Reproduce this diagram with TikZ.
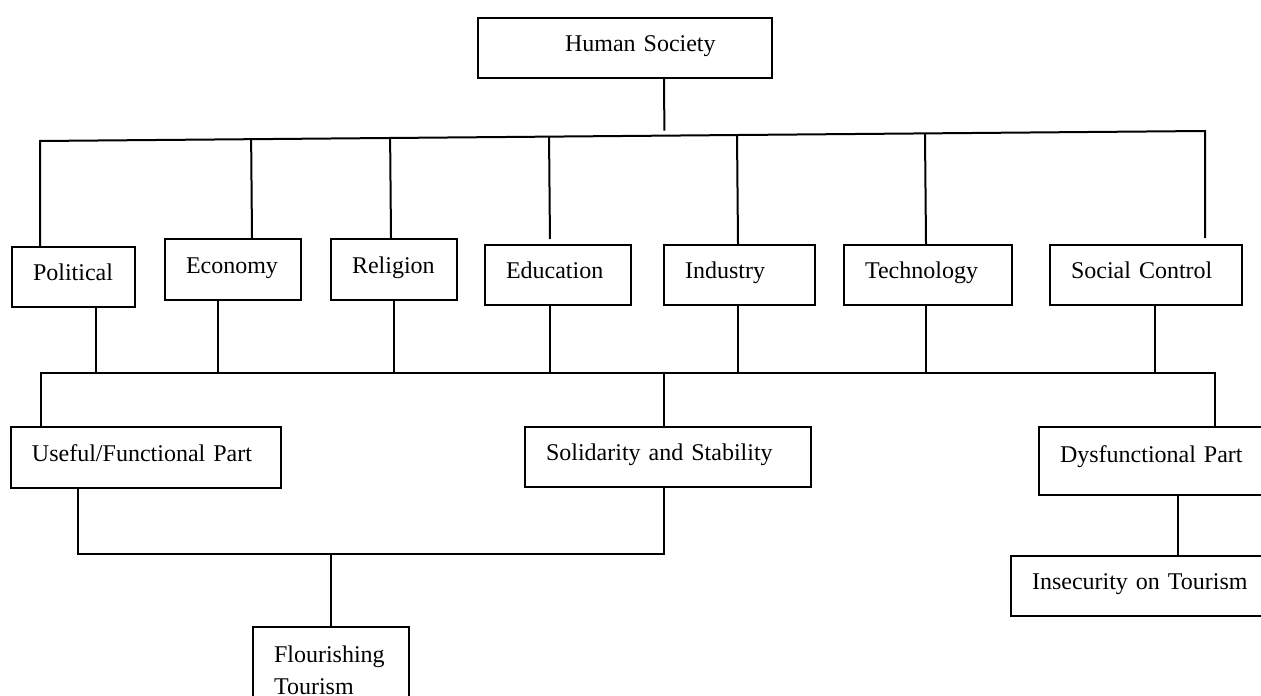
\documentclass[tikz,border=0pt]{standalone}
\usepackage{fontspec}
\setmainfont{Liberation Serif}
\usetikzlibrary{calc}

\tikzset{
  box/.style={draw,line width=1pt,anchor=north west,align=left,inner xsep=10.5pt,
              minimum height=30pt,text height=9pt,text depth=5.5pt},
  link/.style={line width=1pt}
}

\begin{document}
\begin{tikzpicture}[x=0.5pt,y=-0.5pt,font=\fontsize{12}{16}\selectfont]
\useasboundingbox (0,0) rectangle (1261,695);

%---------------------------------------------------
%top box
\node[box,text width=126pt] (hs) at (477,17) {\hspace*{33pt}Human Society};

%first row of boxes
\node[box,text width=40.5pt] (pol) at (11,246) {Political};
\node[box,text width=47pt,minimum height=30.5pt] (eco) at (164,238) {Economy};
\node[box,text width=42pt,minimum height=30.5pt] (rel) at (330,238) {Religion};
\node[box,text width=52pt] (edu) at (484,244) {Education};
\node[box,text width=54.5pt] (ind) at (663,244) {Industry};
\node[box,text width=63pt] (tech) at (843,244) {Technology};
\node[box,text width=75pt] (sc) at (1049,244) {Social Control};

%second row of boxes
\node[box,text width=114pt,minimum height=30.5pt] (use) at (10,426) {Useful/Functional Part};
\node[box,text width=122pt] (sol) at (524,426) {Solidarity and Stability};
\node[box,text width=99pt,minimum height=34pt,text depth=7.5pt] (dys) at (1038,426) {Dysfunctional Part};

%last boxes
\node[box,text width=57pt,inner ysep=8.5pt,text depth=22pt] (flo) at (252,626) {Flourishing\\Tourism};
\node[box,text width=114pt] (ins) at (1010,555) {Insecurity on Tourism};

%---------------------------------------------------
%upper bus
\coordinate (tl) at (40,141);
\coordinate (tr) at (1205,131);
\draw[link,shorten >=3pt] (tl |- pol.north) -- (tl) -- (tr) -- (tr |- sc.north);
\draw[link,shorten >=2.5pt] (hs.south -| 664,0) -- ($(tl)!(hs.south -| 664,0)!(tr)$);
\foreach \n/\x/\g in {eco/252/0,rel/391/0,edu/550/2.5,ind/738/0,tech/926/0}
  \draw[link,shorten >=\g pt] ($(tl)!(\n.north -| \x,0)!(tr)$) -- (\n.north -| \x,0);

%lower bus
\coordinate (bl) at (41,373);
\coordinate (br) at (1215,373);
\foreach \n/\x in {pol/96,eco/218,rel/394,edu/550,ind/738,tech/926,sc/1155}
  \draw[link] (\n.south -| \x,0) -- (\x,0 |- bl);
\draw[link] (use.north -| bl) -- (bl) -- (br) -- (br |- dys.north);
\draw[link] (bl -| 664,0) -- (sol.north -| 664,0);

%---------------------------------------------------
\coordinate (ml) at (78,554);
\coordinate (mr) at (664,554);
\draw[link] (use.south -| ml) -- (ml) -- (mr) -- (sol.south -| mr);
\draw[link] (ml -| 331,0) -- (flo.north -| 331,0);
\draw[link] (dys.south -| 1178,0) -- (ins.north -| 1178,0);

\end{tikzpicture}
\end{document}
